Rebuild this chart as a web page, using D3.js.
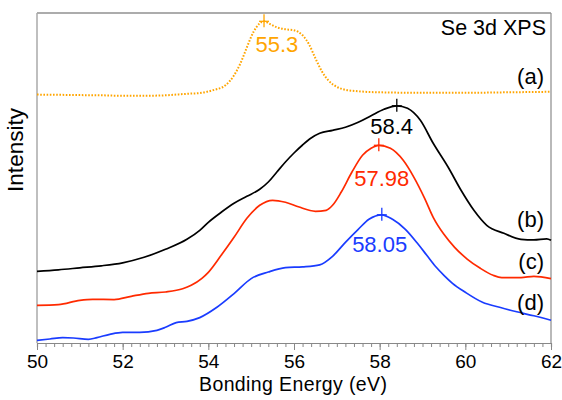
<!DOCTYPE html>
<html>
<head>
<meta charset="utf-8">
<script src="https://cdn.jsdelivr.net/npm/d3@7"></script>
<style>
  body { margin: 0; background: #fff; }
  svg { display: block; font-family: "Liberation Sans", Arial, sans-serif; }
  .curve { fill: none; stroke-linejoin: round; }
</style>
</head>
<body>
<div id="chart"></div>
<script>
// Spectra: [binding energy (eV), intensity (a.u.)]
const curveA = [[50.0,248.4],[50.5,248.2],[51.0,247.9],[51.5,247.7],[52.0,247.2],[52.5,247.2],[53.0,247.7],[53.5,249.2],[53.8,250.0],[54.1,252.7],[54.4,257.7],[54.6,267.7],[54.75,279.7],[54.9,295.7],[55.05,310.7],[55.2,319.7],[55.3,321.7],[55.45,318.7],[55.6,315.7],[55.8,313.7],[56.0,312.7],[56.2,307.7],[56.35,298.7],[56.5,284.7],[56.65,271.7],[56.8,262.7],[57.0,256.2],[57.2,253.2],[57.5,251.7],[58.0,250.7],[59.0,250.2],[60.0,250.2],[61.0,250.7],[62.0,251.2]];
const curveB = [[50.0,71.7],[50.5,73.2],[51.0,75.2],[51.5,77.2],[52.0,80.2],[52.5,85.7],[53.0,93.7],[53.5,103.7],[53.8,112.7],[54.0,120.7],[54.3,130.7],[54.6,139.7],[54.9,146.7],[55.2,153.7],[55.4,161.0],[55.6,171.0],[55.8,181.0],[56.0,190.0],[56.2,198.0],[56.4,205.0],[56.6,209.7],[56.9,212.7],[57.2,215.7],[57.5,220.7],[57.8,227.2],[58.1,233.7],[58.4,237.2],[58.65,234.7],[58.95,222.7],[59.25,199.7],[59.6,175.7],[59.9,152.7],[60.2,132.7],[60.5,117.7],[60.9,109.7],[61.3,103.7],[61.6,103.2],[61.9,104.2],[62.0,102.7]];
const curveC = [[50.0,37.7],[50.5,38.4],[51.0,42.7],[51.3,43.7],[51.8,43.4],[52.2,46.7],[52.6,49.7],[53.0,51.0],[53.4,54.2],[53.6,57.7],[53.85,64.7],[54.0,70.7],[54.3,87.7],[54.6,105.7],[54.9,124.7],[55.2,137.7],[55.5,142.7],[55.8,140.7],[56.1,136.2],[56.5,131.7],[56.75,132.7],[56.9,137.7],[57.1,150.7],[57.35,170.7],[57.6,187.7],[57.8,194.7],[57.98,197.7],[58.25,194.7],[58.55,182.7],[58.8,165.7],[59.05,144.7],[59.25,125.7],[59.5,108.7],[59.75,95.7],[60.05,83.7],[60.35,74.7],[60.65,67.7],[60.85,65.4],[61.3,65.4],[61.6,66.7],[62.0,64.4]];
const curveD = [[50.0,2.7],[50.3,4.0],[50.6,5.4],[50.85,5.0],[51.2,3.7],[51.4,5.4],[51.7,8.7],[52.0,10.7],[52.4,10.7],[52.8,12.7],[53.0,15.7],[53.25,20.4],[53.5,21.7],[53.8,25.4],[54.2,35.7],[54.6,49.4],[55.0,64.4],[55.4,71.0],[55.8,75.4],[56.2,76.2],[56.6,78.2],[56.9,86.7],[57.2,100.7],[57.5,113.7],[57.75,123.7],[58.05,128.2],[58.3,123.7],[58.6,113.7],[58.9,98.7],[59.1,87.7],[59.3,76.7],[59.5,67.7],[59.7,59.7],[60.0,50.7],[60.4,40.7],[60.8,35.7],[61.2,31.2],[61.6,27.2],[62.0,22.7]];

const seriesNames = ["(a)", "(b)", "(c)", "(d)"];
const peakEnergies = [55.3, 58.4, 57.98, 58.05];
const peakIntensities = [321.7, 237.2, 197.7, 128.2];
const peakLabels = ["55.3", "58.4", "57.98", "58.05"];

const xMajorTicks = [50, 52, 54, 56, 58, 60, 62];

class SpectraChart {
  constructor(_config) {
    this.config = {
      parentElement: _config.parentElement,
      containerWidth: 562,
      containerHeight: 400,
      margin: { top: 13, right: 11, bottom: 57, left: 37 },
      colors: ["#ffa500", "#000000", "#ff2a00", "#1a3cff"],
      // label placement tweaks (eV shift, px below peak / above line end)
      peakLabelShift: [0.3, -0.12, 0.07, -0.05],
      peakLabelDrop: [31, 28, 41, 37],
      nameLift: [8, 13, 10, 10],
    };
    this.curves = [curveA, curveB, curveC, curveD];
    this.initVis();
  }

  initVis() {
    let vis = this;

    vis.svg = d3
      .select(vis.config.parentElement)
      .append("svg")
      .attr("width", vis.config.containerWidth)
      .attr("height", vis.config.containerHeight);

    vis.width =
      vis.config.containerWidth - vis.config.margin.left - vis.config.margin.right;
    vis.height =
      vis.config.containerHeight - vis.config.margin.top - vis.config.margin.bottom;

    vis.chart = vis.svg
      .append("g")
      .attr("transform", `translate(${vis.config.margin.left},${vis.config.margin.top})`);

    vis.xScale = d3.scaleLinear().domain([50, 62]).range([0, vis.width]);
    vis.yScale = d3.scaleLinear().domain([0, 330]).range([vis.height, 0]);

    vis.line = d3
      .line()
      .x((d) => vis.xScale(d[0]))
      .y((d) => vis.yScale(d[1]))
      .curve(d3.curveMonotoneX);

    vis.renderVis();
  }

  renderVis() {
    let vis = this;
    const cfg = vis.config;

    // frame: top, left and right borders
    vis.chart.append("line")
      .attr("x1", 0).attr("x2", vis.width).attr("y1", 0).attr("y2", 0)
      .attr("stroke", "#5a5a5a").attr("stroke-width", 1.2);
    vis.chart.append("line")
      .attr("x1", 0).attr("x2", 0).attr("y1", 0).attr("y2", vis.height)
      .attr("stroke", "#aaaaaa").attr("stroke-width", 1.5);
    vis.chart.append("line")
      .attr("x1", vis.width).attr("x2", vis.width).attr("y1", 0).attr("y2", vis.height)
      .attr("stroke", "#8a8a8a").attr("stroke-width", 1.2);

    // minor ticks every 0.2 eV
    const minorAxis = d3.axisBottom(vis.xScale)
      .tickValues(d3.range(50, 62.001, 0.2))
      .tickSize(4)
      .tickFormat("");
    vis.chart.append("g")
      .attr("transform", `translate(0,${vis.height})`)
      .call(minorAxis)
      .call((g) => g.selectAll("line").attr("stroke", "#888"))
      .call((g) => g.select(".domain").attr("stroke", "#888").attr("stroke-width", 1.2));

    const xAxis = d3.axisBottom(vis.xScale)
      .tickValues(xMajorTicks)
      .tickSize(7)
      .tickPadding(5)
      .tickFormat(d3.format("d"));
    vis.chart.append("g")
      .attr("transform", `translate(0,${vis.height})`)
      .call(xAxis)
      .call((g) => g.select(".domain").remove())
      .call((g) => g.selectAll("line").attr("stroke", "#888"))
      .call((g) => g.selectAll("text")
        .attr("fill", "#000")
        .attr("font-size", 19)
        .attr("font-family", "'Liberation Sans', Arial, sans-serif"));

    // axis titles
    vis.svg.append("text")
      .attr("x", cfg.margin.left + vis.width / 2 - 1)
      .attr("y", 391)
      .attr("text-anchor", "middle")
      .attr("font-size", 19.5)
      .attr("textLength", 188)
      .text("Bonding Energy (eV)");

    vis.svg.append("text")
      .attr("transform", "translate(23,150) rotate(-90)")
      .attr("text-anchor", "middle")
      .attr("font-size", 22.5)
      .text("Intensity");

    vis.chart.append("text")
      .attr("x", vis.width - 5)
      .attr("y", 22)
      .attr("text-anchor", "end")
      .attr("font-size", 21.5)
      .text("Se 3d XPS");

    // spectra
    vis.chart.selectAll(".curve")
      .data(vis.curves)
      .join("path")
      .attr("class", "curve")
      .attr("d", vis.line)
      .attr("stroke", (d, i) => cfg.colors[i])
      .attr("stroke-width", (d, i) => (i === 0 ? 2 : 1.7))
      .attr("stroke-dasharray", (d, i) => (i === 0 ? "1.6,1.6" : null));

    // peak markers
    const peaks = peakEnergies.map((e, i) => ({
      e: e, v: peakIntensities[i], label: peakLabels[i], i: i,
    }));

    const marks = vis.chart.selectAll(".peak")
      .data(peaks)
      .join("g")
      .attr("class", "peak")
      .attr("transform", (d) => `translate(${vis.xScale(d.e)},${vis.yScale(d.v)})`);
    marks.append("line")
      .attr("y1", -7).attr("y2", 6)
      .attr("stroke", (d) => cfg.colors[d.i]).attr("stroke-width", 1.3);
    marks.append("line")
      .attr("x1", -5).attr("x2", 5)
      .attr("stroke", (d) => cfg.colors[d.i]).attr("stroke-width", 1.3);

    vis.chart.selectAll(".peak-label")
      .data(peaks)
      .join("text")
      .attr("class", "peak-label")
      .attr("x", (d) => vis.xScale(d.e + cfg.peakLabelShift[d.i]))
      .attr("y", (d) => vis.yScale(d.v) + cfg.peakLabelDrop[d.i])
      .attr("text-anchor", "middle")
      .attr("font-size", 22)
      .attr("fill", (d) => cfg.colors[d.i])
      .text((d) => d.label);

    // series names at right end
    vis.chart.selectAll(".series-name")
      .data(vis.curves)
      .join("text")
      .attr("class", "series-name")
      .attr("x", vis.width - 7)
      .attr("y", (d, i) => vis.yScale(d[d.length - 1][1]) - cfg.nameLift[i])
      .attr("text-anchor", "end")
      .attr("font-size", 22)
      .text((d, i) => seriesNames[i]);
  }
}

new SpectraChart({ parentElement: "#chart" });
</script>
</body>
</html>
